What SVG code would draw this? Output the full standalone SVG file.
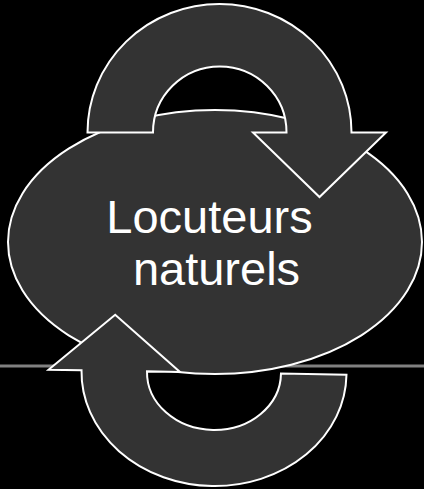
<svg xmlns="http://www.w3.org/2000/svg" width="424" height="489" viewBox="0 0 424 489">
  <style>
    .shape { fill: #333333; stroke: #ffffff; stroke-width: 2; stroke-linejoin: miter; }
    .label { fill: #ffffff; font-family: "Liberation Sans", Arial, sans-serif; font-size: 47px; text-anchor: middle; }
    .rule { stroke: #808080; stroke-width: 3; fill: none; }
  </style>
  <rect x="0" y="0" width="424" height="489" fill="#000000"/>
  <g id="baseline">
    <line class="rule" x1="0" y1="366" x2="424" y2="366"/>
  </g>
  <g id="node-locuteurs">
    <ellipse class="shape" cx="215" cy="242" rx="207" ry="132"/>
    <text class="label" x="209.5" y="232.5">Locuteurs</text>
    <text class="label" x="216.5" y="285">naturels</text>
  </g>
  <g id="connectors">
    <path id="arrow-top" class="shape" d="M 87.5 132.5 A 132 128.5 0 0 1 351.5 132.5 L 386 132.5 L 319.5 197 L 253 132.5 L 286.5 132.5 A 66.75 66 0 0 0 153 132.5 Z"/>
    <path id="arrow-bottom" class="shape" transform="translate(214 372.5) rotate(0.96)" d="M -165.5 0 L -99.75 -56 L -34 0 L -67 0 A 67 57.5 0 0 0 67 0 L 132.5 0 A 132.5 113.5 0 0 1 -132.5 0 Z"/>
  </g>
</svg>
